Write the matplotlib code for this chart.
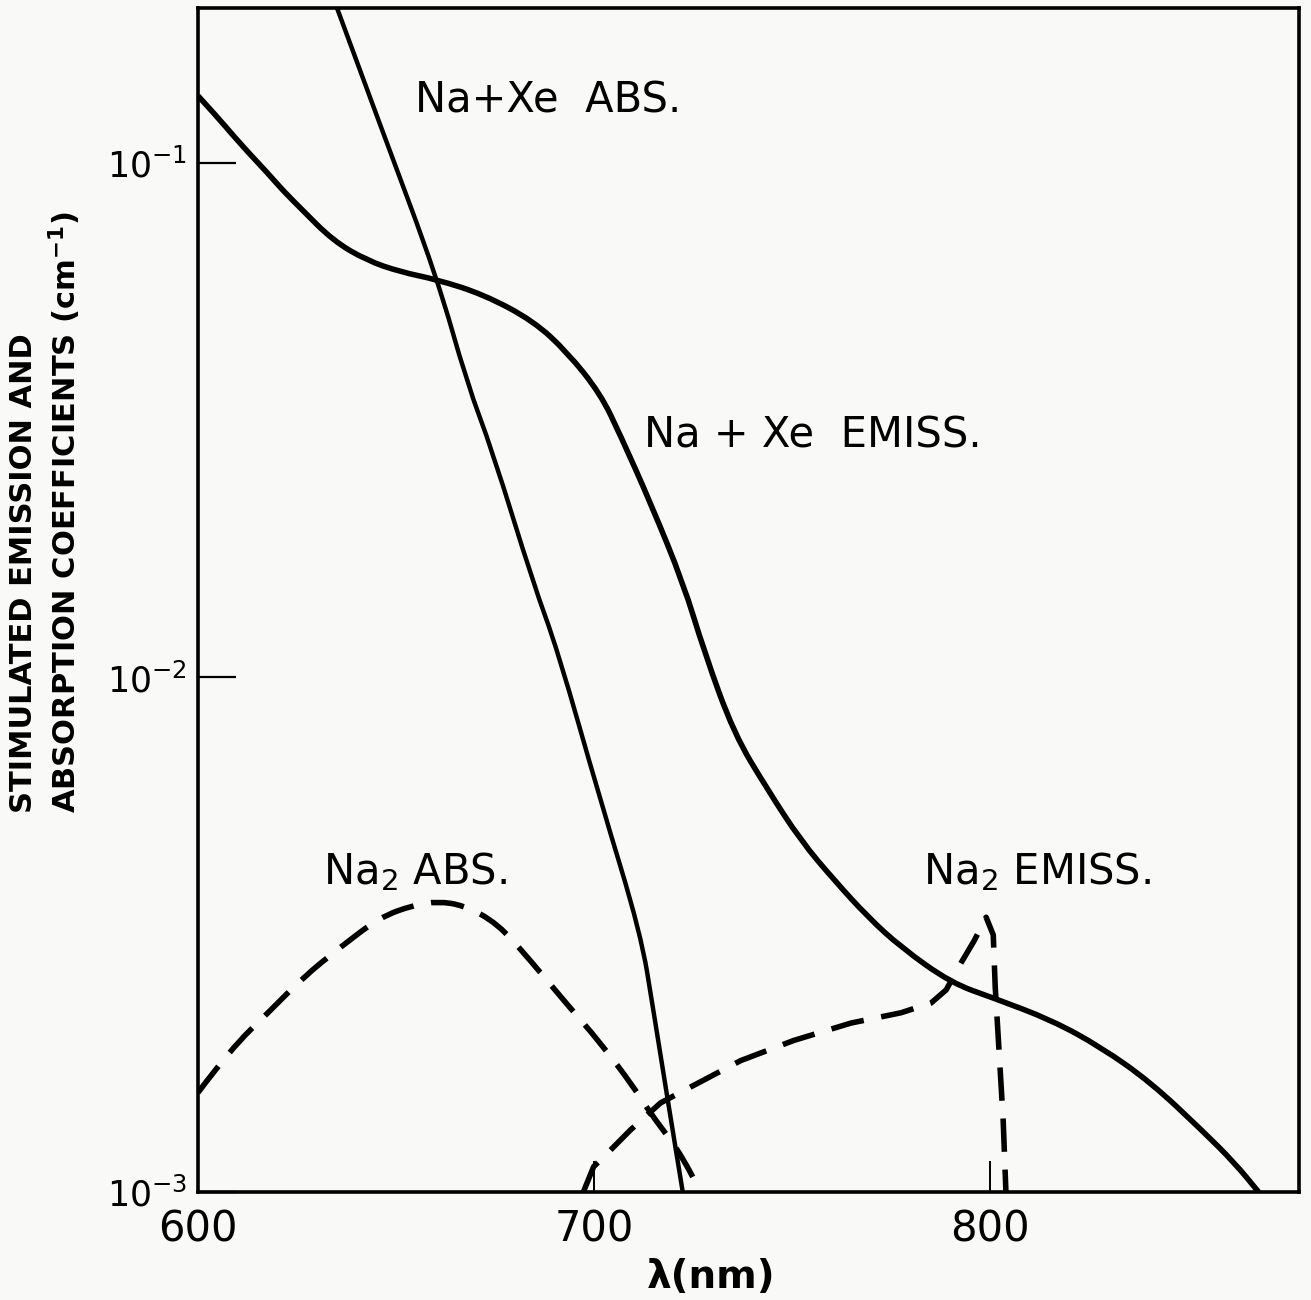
# Na + Xe and Na2 stimulated emission / absorption coefficients vs wavelength

import numpy as np
import matplotlib
matplotlib.use("Agg")
import matplotlib.pyplot as plt
from matplotlib.path import Path
from matplotlib.patches import PathPatch

plt.rcParams['font.family'] = ['DejaVu Sans']
plt.rcParams['mathtext.default'] = 'regular'

# Na + Xe absorption (solid, steep)
naxe_abs_nm = [635.1, 646.8, 660.4, 668.0, 674.3, 684.7, 690.8, 701.6, 711.8, 715.0, 718.6, 722.4]
naxe_abs = [0.200, 0.114, 0.0598, 0.0372, 0.0276, 0.0152, 0.0113, 0.00577, 0.00318, 0.00225,
            0.00151, 0.00100]

# Na + Xe emission (solid)
naxe_em_nm = [600.0, 604.8, 608.9, 613.1, 617.5, 621.5, 625.8, 634.1, 642.7, 651.1, 660.4,
              672.1, 684.7, 693.3, 701.6, 706.7, 714.3, 722.6, 727.7, 735.3, 743.9, 752.2,
              760.6, 769.2, 777.5, 790.1, 801.0, 815.4, 828.1, 840.7, 853.4, 861.7, 867.8]
naxe_em = [0.135, 0.123, 0.113, 0.104, 0.0957, 0.0883, 0.0818, 0.0706, 0.0646, 0.0614, 0.0593,
           0.0555, 0.0493, 0.0428, 0.0356, 0.0295, 0.0218, 0.0152, 0.0113, 0.00778, 0.00604, 0.00482,
           0.00404, 0.00342, 0.00299, 0.00255, 0.00238, 0.00216, 0.00191, 0.00163, 0.00132, 0.00114,
           0.00100]

# Na2 absorption (dashed)
na2_abs_nm = [600.0, 608.1, 618.2, 626.5, 635.9, 646.0, 654.4, 660.4, 667.0,
              675.6, 683.9, 693.3, 701.6, 710.0, 714.3, 720.1, 723.6, 726.9]
na2_abs = [0.00156, 0.00189, 0.00225, 0.00261, 0.00299, 0.00342, 0.00361, 0.00367, 0.00361,
           0.00333, 0.00282, 0.00231, 0.00195, 0.00160, 0.00142, 0.00124, 0.00112, 0.00100]

# Na2 emission (dashed)
na2_em_nm = [697.3, 699.9, 703.4, 709.2, 716.8, 724.4, 737.0, 750.4, 764.9, 777.5,
             785.1, 788.9, 792.7, 796.0, 799.0, 800.8, 801.3, 802.3, 803.3, 804.0]
na2_em = [0.00100, 0.00112, 0.00119, 0.00132, 0.00149, 0.00160, 0.00180, 0.00197, 0.00213, 0.00223,
          0.00233, 0.00247, 0.00279, 0.00308, 0.00342, 0.00316, 0.00250, 0.00186, 0.00138, 0.00100]

xticks = [600, 700, 800]
yticks = [1e-3, 1e-2, 1e-1]
ytick_labels = [r'$10^{-3}$', r'$10^{-2}$', r'$10^{-1}$']


# draw the read points as a rounded (quadratic b-spline) path, like the hand-drawn curves
def curve(ax, xs, ys, **kw):
    verts = [(xs[0], ys[0])]
    codes = [Path.MOVETO]
    for i in range(1, len(xs) - 1):
        mid = ((xs[i] + xs[i+1]) / 2, np.sqrt(ys[i] * ys[i+1]))
        verts += [(xs[i], ys[i]), mid]
        codes += [Path.CURVE3, Path.CURVE3]
    verts.append((xs[-1], ys[-1]))
    codes.append(Path.LINETO)
    ax.add_patch(PathPatch(Path(verts, codes), fill=False, edgecolor='black',
                           transform=ax.transData, **kw))


bg = '#f9f9f8'
fig = plt.figure(figsize=(13.11, 13.0), dpi=100, facecolor=bg)
ax = fig.add_axes([198/1311, 1 - 1192/1300, 1101/1311, 1184/1300], facecolor=bg)

curve(ax, naxe_abs_nm, naxe_abs, lw=3.2)
curve(ax, naxe_em_nm, naxe_em, lw=4.0)
curve(ax, na2_abs_nm, na2_abs, lw=4.0, linestyle=(0, (6, 3.2)))
ax.plot(na2_em_nm, na2_em, c='black', lw=4.0, dashes=(6, 3.2))

ax.set_yscale('log')
ax.set_xlim(600, 878)
ax.set_ylim(1e-3, 0.2)

ax.set_yticks(yticks)
ax.set_yticklabels(ytick_labels)
ax.yaxis.set_minor_locator(matplotlib.ticker.NullLocator())
ax.set_xticks(xticks)
ax.set_xticklabels([str(v) for v in xticks])
ax.tick_params(axis='y', direction='in', length=27, width=1.6, labelsize=25, pad=8)
ax.tick_params(axis='x', direction='in', length=22, width=1.4, labelsize=30, pad=12)

for s in ax.spines.values():
    s.set_linewidth(2.6)

# curve labels
ax.text(654.9, 0.132, 'Na+Xe  ABS.', fontsize=30, ha='left', va='center')
ax.text(712.5, 0.0295, 'Na + Xe  EMISS.', fontsize=30, ha='left', va='center')
ax.text(631.6, 0.0042, r'Na$_2$ ABS.', fontsize=30, ha='left', va='center')
ax.text(783.1, 0.0042, r'Na$_2$ EMISS.', fontsize=30, ha='left', va='center')

fig.text(46/1311, 1 - 512/1300,
         'STIMULATED EMISSION AND\nABSORPTION COEFFICIENTS (cm$^{-1}$)',
         rotation=90, ha='center', va='center', multialignment='left',
         fontsize=22, fontweight='bold', linespacing=1.3)
fig.text(711/1311, 1 - 1277/1300, 'λ(nm)', ha='center', va='center',
         fontsize=28, fontweight='bold')

fig.savefig('out.png', dpi=100, facecolor=bg)
